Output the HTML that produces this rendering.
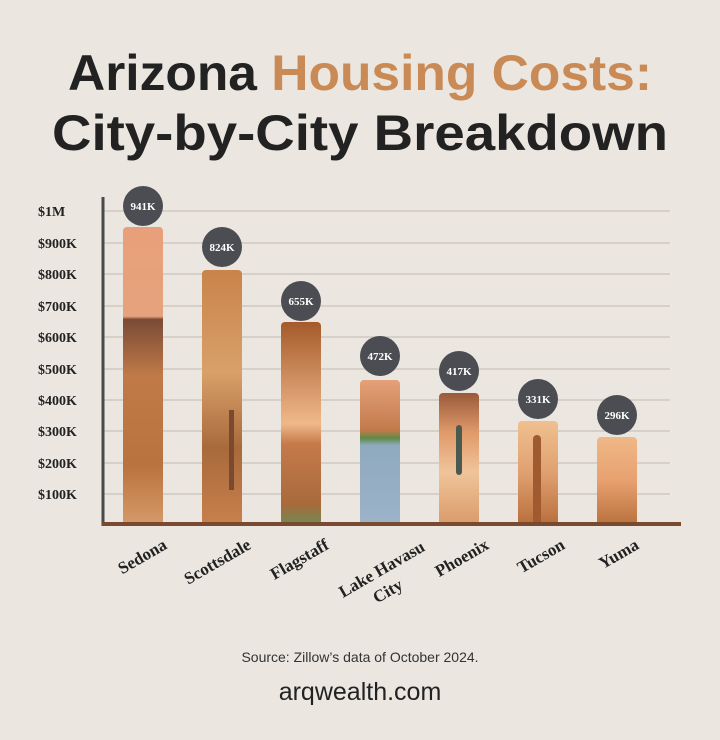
<!DOCTYPE html>
<html><head><meta charset="utf-8"><style>
body{margin:0;background:#ebe7e0;}
svg{display:block}
</style></head><body>
<svg width="720" height="740" viewBox="0 0 720 740" xmlns="http://www.w3.org/2000/svg">
<defs>
<linearGradient id="g1" x1="0" y1="0" x2="0" y2="1"><stop offset="0" stop-color="#e8a07a"/><stop offset="0.3" stop-color="#e5a27c"/><stop offset="0.31" stop-color="#7a4a36"/><stop offset="0.5" stop-color="#c07a48"/><stop offset="0.8" stop-color="#b8733e"/><stop offset="1" stop-color="#d69a6a"/></linearGradient>
<linearGradient id="g2" x1="0" y1="0" x2="0" y2="1"><stop offset="0" stop-color="#c8844a"/><stop offset="0.4" stop-color="#d9a06a"/><stop offset="0.7" stop-color="#a86a3c"/><stop offset="1" stop-color="#c9804c"/></linearGradient>
<linearGradient id="g3" x1="0" y1="0" x2="0" y2="1"><stop offset="0" stop-color="#a55a2a"/><stop offset="0.5" stop-color="#f0b88a"/><stop offset="0.6" stop-color="#c57a4a"/><stop offset="0.9" stop-color="#a86a3c"/><stop offset="1" stop-color="#6e8a55"/></linearGradient>
<linearGradient id="g4" x1="0" y1="0" x2="0" y2="1"><stop offset="0" stop-color="#e6a07a"/><stop offset="0.35" stop-color="#c07a4a"/><stop offset="0.4" stop-color="#5e8a45"/><stop offset="0.45" stop-color="#8fa9bf"/><stop offset="1" stop-color="#9cb3c8"/></linearGradient>
<linearGradient id="g5" x1="0" y1="0" x2="0" y2="1"><stop offset="0" stop-color="#9a5a3a"/><stop offset="0.3" stop-color="#e09a6a"/><stop offset="0.6" stop-color="#f0c49a"/><stop offset="1" stop-color="#d99a6a"/></linearGradient>
<linearGradient id="g6" x1="0" y1="0" x2="0" y2="1"><stop offset="0" stop-color="#f0c090"/><stop offset="0.5" stop-color="#e0a070"/><stop offset="1" stop-color="#b86e3c"/></linearGradient>
<linearGradient id="g7" x1="0" y1="0" x2="0" y2="1"><stop offset="0" stop-color="#f0b888"/><stop offset="0.5" stop-color="#e8a070"/><stop offset="1" stop-color="#b8703c"/></linearGradient>
</defs>
<text x="68" y="90" textLength="584" lengthAdjust="spacingAndGlyphs" font-family="Liberation Sans, sans-serif" font-weight="bold" font-size="50" fill="#222">Arizona <tspan fill="#c98a55">Housing Costs:</tspan></text>
<text x="52" y="150" textLength="616" lengthAdjust="spacingAndGlyphs" font-family="Liberation Sans, sans-serif" font-weight="bold" font-size="50" fill="#222">City-by-City Breakdown</text>
<g stroke="#d6d0c8" stroke-width="2">
<line x1="104" y1="211" x2="670" y2="211"/><line x1="104" y1="243" x2="670" y2="243"/><line x1="104" y1="274" x2="670" y2="274"/><line x1="104" y1="306" x2="670" y2="306"/><line x1="104" y1="337" x2="670" y2="337"/><line x1="104" y1="369" x2="670" y2="369"/><line x1="104" y1="400" x2="670" y2="400"/><line x1="104" y1="431" x2="670" y2="431"/><line x1="104" y1="463" x2="670" y2="463"/><line x1="104" y1="494" x2="670" y2="494"/>
</g>
<g font-family="Liberation Serif, serif" font-weight="bold" font-size="14" fill="#222">
<text x="38" y="216">$1M</text><text x="38" y="248">$900K</text><text x="38" y="279">$800K</text><text x="38" y="311">$700K</text><text x="38" y="342">$600K</text><text x="38" y="374">$500K</text><text x="38" y="405">$400K</text><text x="38" y="436">$300K</text><text x="38" y="468">$200K</text><text x="38" y="499">$100K</text>
</g>
<rect x="123" y="227" width="40" height="298" rx="4" fill="url(#g1)"/>
<rect x="202" y="270" width="40" height="255" rx="4" fill="url(#g2)"/>
<rect x="281" y="322" width="40" height="203" rx="4" fill="url(#g3)"/>
<rect x="360" y="380" width="40" height="145" rx="4" fill="url(#g4)"/>
<rect x="439" y="393" width="40" height="132" rx="4" fill="url(#g5)"/>
<rect x="518" y="421" width="40" height="104" rx="4" fill="url(#g6)"/>
<rect x="597" y="437" width="40" height="88" rx="4" fill="url(#g7)"/>
<rect x="229" y="410" width="5" height="80" fill="#7a4a30"/>
<rect x="456" y="425" width="6" height="50" rx="3" fill="#4a5a50"/>
<rect x="533" y="435" width="8" height="90" rx="4" fill="#a05a30"/>
<line x1="103" y1="197" x2="103" y2="526" stroke="#4a4a4a" stroke-width="3"/>
<line x1="102" y1="524" x2="681" y2="524" stroke="#7a4a30" stroke-width="4"/>
<g fill="#4b4d52"><circle cx="143" cy="206" r="20"/><circle cx="222" cy="247" r="20"/><circle cx="301" cy="301" r="20"/><circle cx="380" cy="356" r="20"/><circle cx="459" cy="371" r="20"/><circle cx="538" cy="399" r="20"/><circle cx="617" cy="415" r="20"/></g>
<g font-family="Liberation Serif, serif" font-weight="bold" font-size="11" fill="#fff" text-anchor="middle">
<text x="143" y="210">941K</text><text x="222" y="251">824K</text><text x="301" y="305">655K</text><text x="380" y="360">472K</text><text x="459" y="375">417K</text><text x="538" y="403">331K</text><text x="617" y="419">296K</text>
</g>
<g font-family="Liberation Serif, serif" font-weight="bold" font-size="17" fill="#222" text-anchor="end">
<text transform="translate(168,548) rotate(-30)">Sedona</text>
<text transform="translate(252,548) rotate(-30)">Scottsdale</text>
<text transform="translate(330,548) rotate(-30)">Flagstaff</text>
<text transform="translate(426,550) rotate(-30)">Lake Havasu</text>
<text transform="translate(404,588) rotate(-30)">City</text>
<text transform="translate(490,548) rotate(-30)">Phoenix</text>
<text transform="translate(566,548) rotate(-30)">Tucson</text>
<text transform="translate(640,548) rotate(-30)">Yuma</text>
</g>
<text x="360" y="662" text-anchor="middle" font-family="Liberation Sans, sans-serif" font-size="14" fill="#333">Source: Zillow’s data of October 2024.</text>
<text x="360" y="700" text-anchor="middle" font-family="Liberation Sans, sans-serif" font-size="25" fill="#222">arqwealth.com</text>
</svg>
</body></html>
